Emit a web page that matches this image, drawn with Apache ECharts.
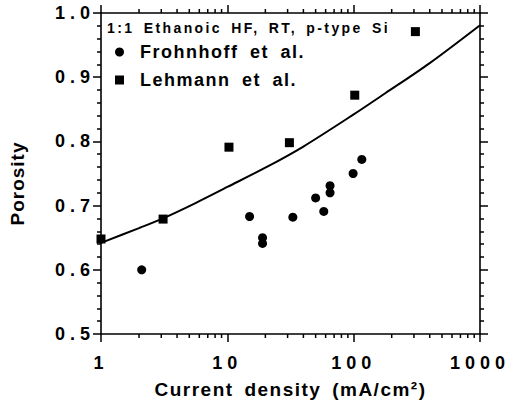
<!DOCTYPE html>
<html>
<head>
<meta charset="utf-8">
<script src="https://cdn.jsdelivr.net/npm/echarts@6/dist/echarts.min.js"></script>
<style>
html,body{margin:0;padding:0;background:#fff;}
#chart{width:509px;height:406px;}
</style>
</head>
<body>
<div id="chart"></div>
<script>
// ---- data ----
const frohnhoffX = [2.1, 15, 19, 19, 33, 50, 58, 65, 65, 99, 116];
const frohnhoffY = [0.60, 0.683, 0.65, 0.641, 0.682, 0.712, 0.691, 0.731, 0.72, 0.75, 0.772];
const lehmannX = [1.0, 3.1, 10.3, 31, 102, 308];
const lehmannY = [0.648, 0.679, 0.791, 0.798, 0.872, 0.971];
const fitX = [1, 2, 3.16, 5.6, 10, 20, 40, 100, 178, 400, 1000];
const fitY = [0.642, 0.665, 0.681, 0.704, 0.729, 0.759, 0.792, 0.842, 0.875, 0.922, 0.981];
const xMinorTicks = [2,3,4,5,6,7,8,9,20,30,40,50,60,70,80,90,200,300,400,500,600,700,800,900];
const yTickLabels = ['0.5','0.6','0.7','0.8','0.9','1.0'];
const legendNames = ['Frohnhoff et al.', 'Lehmann et al.'];
const headerText = '1:1 Ethanoic HF, RT, p-type Si';
const xTitle = 'Current density (mA/cm\u00b2)';
const yTitle = 'Porosity';

const FONT = '"Liberation Sans", Arial, Helvetica, sans-serif';
const zip = (a, b) => a.map((v, i) => [v, b[i]]);

const chart = echarts.init(document.getElementById('chart'), null, {renderer: 'svg'});

const axisLine = () => ({show: true, lineStyle: {color: '#000', width: 1.6}});
const tickStyle = () => ({color: '#000', width: 1.5});

const option = {
  backgroundColor: '#fff',
  animation: false,
  grid: {left: 100, top: 13, width: 380, height: 321, containLabel: false},
  legend: {
    orient: 'vertical', left: 110, top: 38, itemWidth: 9, itemHeight: 9, itemGap: 10,
    selectedMode: false,
    textStyle: {fontFamily: FONT, fontWeight: 'bold', fontSize: 18, color: '#000', padding: [0, 0, 0, 11]},
    data: [{name: legendNames[0], icon: 'circle'}, {name: legendNames[1], icon: 'rect'}]
  },
  graphic: [{
    type: 'text', left: 107, top: 21, silent: true,
    style: {text: headerText, fill: '#000', fontFamily: FONT, fontWeight: 'bold', fontSize: 14}
  }],
  xAxis: [{
    type: 'log', logBase: 10, min: 1, max: 1000, position: 'bottom',
    axisLine: axisLine(),
    axisTick: {show: true, inside: false, length: 8, lineStyle: tickStyle()},
    minorTick: {show: false},
    splitLine: {show: false},
    axisLabel: {color: '#000', fontFamily: FONT, fontWeight: 'bold', fontSize: 18, margin: 20,
      showMinLabel: true, showMaxLabel: true, formatter: v => String(Math.round(v))},
    name: xTitle, nameLocation: 'middle', nameGap: 46, nameMoveOverlap: false,
    nameTextStyle: {color: '#000', fontFamily: FONT, fontWeight: 'bold', fontSize: 19}
  }, {
    type: 'log', logBase: 10, min: 1, max: 1000, position: 'top',
    axisLine: axisLine(),
    axisTick: {show: true, inside: false, length: 8, lineStyle: tickStyle()},
    minorTick: {show: false}, splitLine: {show: false}, axisLabel: {show: false}
  }],
  yAxis: [{
    type: 'value', min: 0.5, max: 1.0, interval: 0.1, position: 'left',
    axisLine: axisLine(),
    axisTick: {show: true, inside: false, length: 8, lineStyle: tickStyle()},
    minorTick: {show: true, splitNumber: 5, length: 4, lineStyle: tickStyle()},
    splitLine: {show: false},
    axisLabel: {color: '#000', fontFamily: FONT, fontWeight: 'bold', fontSize: 18, margin: 6,
      showMinLabel: true, showMaxLabel: true,
      formatter: v => yTickLabels[Math.round((v - 0.5) * 10)]},
    name: yTitle, nameLocation: 'middle', nameGap: 74, nameRotate: 90, nameMoveOverlap: false,
    nameTextStyle: {color: '#000', fontFamily: FONT, fontWeight: 'bold', fontSize: 19, padding: [0, 20, 0, 0]}
  }, {
    type: 'value', min: 0.5, max: 1.0, interval: 0.1, position: 'right',
    axisLine: axisLine(),
    axisTick: {show: true, inside: false, length: 8, lineStyle: tickStyle()},
    minorTick: {show: true, splitNumber: 5, length: 4, lineStyle: tickStyle()},
    splitLine: {show: false}, axisLabel: {show: false}
  }],
  series: [{
    type: 'line', name: 'fit', data: zip(fitX, fitY), smooth: 0.3, symbol: 'none',
    lineStyle: {color: '#000', width: 2, opacity: 1}, silent: true, z: 3
  }, {
    type: 'scatter', name: legendNames[0], data: zip(frohnhoffX, frohnhoffY),
    symbol: 'circle', symbolSize: 9, itemStyle: {color: '#000', opacity: 1}, clip: false, z: 4
  }, {
    type: 'scatter', name: legendNames[1], data: zip(lehmannX, lehmannY),
    symbol: 'rect', symbolSize: 9, itemStyle: {color: '#000', opacity: 1}, clip: false, z: 4
  }, {
    type: 'custom', name: 'minor', silent: true, clip: false, z: 5,
    data: xMinorTicks.map(v => [v, 0.5]),
    renderItem: function (params, api) {
      const x = api.value(0);
      const b = api.coord([x, 0.5]);
      const t = api.coord([x, 1.0]);
      const st = {stroke: '#000', lineWidth: 1.5};
      return {type: 'group', children: [
        {type: 'line', shape: {x1: b[0], y1: b[1], x2: b[0], y2: b[1] + 4}, style: st},
        {type: 'line', shape: {x1: t[0], y1: t[1], x2: t[0], y2: t[1] - 4}, style: st}
      ]};
    }
  }]
};
chart.setOption(option);

function spacing() {
  document.querySelectorAll('#chart text').forEach(el => {
    const t = el.textContent;
    let ls = null, ws = null;
    if (/^\d\.\d$/.test(t) || /^10*$/.test(t)) ls = 5;
    else if (t === yTitle) ls = 1;
    else if (t === xTitle) { ls = 1.5; ws = 4; }
    else if (t === headerText) { ls = 2.4; ws = 3; }
    else if (legendNames.indexOf(t) >= 0) { ls = 1.5; ws = 5; }
    if (ls !== null) el.style.letterSpacing = ls + 'px';
    if (ws !== null) el.style.wordSpacing = ws + 'px';
  });
}
chart.on('finished', spacing);
setTimeout(spacing, 50);
setTimeout(spacing, 300);
</script>
</body>
</html>
